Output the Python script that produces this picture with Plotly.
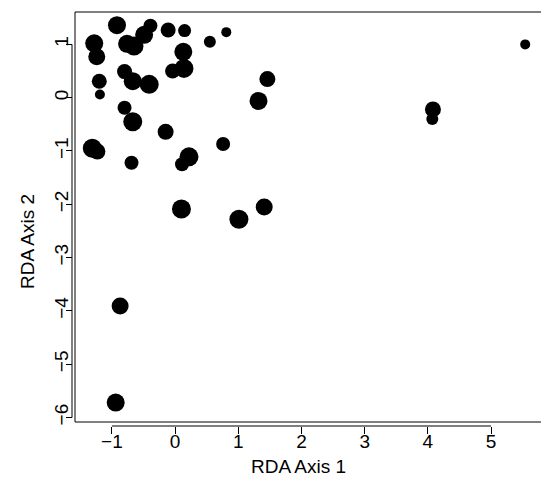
import plotly.graph_objects as go

# RDA site scores
rda1 = [-0.92, -1.28, -1.24, -1.20, -1.19, -0.80, -0.67, -0.41, -0.80, -0.67,
        -0.15, -0.11, 0.15, 0.55, 0.81, 0.13, 0.14, -0.04, 1.46, 1.32,
        -0.76, -0.65, -0.49, -0.39, -1.31, -1.23, -0.69, 0.76, 0.22, 0.11,
        0.10, 1.01, 1.41, 5.54, 4.08, 4.07, -0.87, -0.94]
rda2 = [1.36, 1.02, 0.77, 0.31, 0.06, 0.49, 0.31, 0.25, -0.19, -0.45,
        -0.64, 1.27, 1.26, 1.05, 1.23, 0.86, 0.55, 0.50, 0.35, -0.06,
        1.01, 0.97, 1.18, 1.35, -0.95, -1.01, -1.22, -0.87, -1.11, -1.25,
        -2.09, -2.28, -2.05, 1.00, -0.22, -0.40, -3.91, -5.72]
point_size = [18, 18, 17, 15, 10, 15, 18, 19, 14, 19,
              16, 15, 13, 12, 10, 18, 19, 15, 16, 18,
              18, 19, 18, 14, 19, 16, 14, 14, 19, 14,
              19, 19, 17, 10, 16, 12, 17, 18]

x_ticks = [-1, 0, 1, 2, 3, 4, 5]
y_ticks = [1, 0, -1, -2, -3, -4, -5, -6]
x_title = "RDA Axis 1"
y_title = "RDA Axis 2"

W, H = 541, 477
axis_left_px = 72      # y-axis line
box_left_px = 75
box_top_px = 12
box_bottom_px = 422
axis_bottom_px = 426   # x-axis line

ml = axis_left_px
mb = H - axis_bottom_px
paper_w = W - ml
paper_h = axis_bottom_px - box_top_px
xdom0 = (box_left_px - axis_left_px) / paper_w
ydom0 = (axis_bottom_px - box_bottom_px) / paper_h

FONT = "Liberation Sans, Arial, sans-serif"
FS = 19

fig = go.Figure()
fig.add_trace(go.Scatter(
    x=rda1, y=rda2, mode="markers",
    marker=dict(color="black", size=point_size, opacity=1, line=dict(width=0)),
    hoverinfo="skip", showlegend=False, cliponaxis=False,
))

fig.update_layout(
    width=W, height=H,
    margin=dict(l=ml, r=0, t=box_top_px, b=mb, autoexpand=False),
    paper_bgcolor="white", plot_bgcolor="white",
    font=dict(family=FONT, size=FS, color="black"),
    xaxis=dict(domain=[xdom0, 1], range=[-1.584, 5.79], anchor="free", position=0,
               tickmode="array", tickvals=x_ticks, ticks="outside", ticklen=7,
               tickwidth=1, tickcolor="black", showgrid=False, zeroline=False,
               showline=False, ticklabelstandoff=-9, tickfont=dict(size=FS, family=FONT)),
    yaxis=dict(domain=[ydom0, 1], range=[-6.085, 1.608], anchor="free", position=0,
               tickmode="array", tickvals=y_ticks, ticks="outside", ticklen=6,
               tickwidth=1, tickcolor="black", showgrid=False, zeroline=False,
               showline=False, tickangle=-90, ticklabelstandoff=-10,
               tickfont=dict(size=FS, family=FONT)),
    shapes=[
        dict(type="rect", xref="paper", yref="paper", x0=xdom0, x1=1.05, y0=ydom0, y1=1,
             line=dict(color="black", width=1)),
        dict(type="line", xref="x", yref="paper", x0=x_ticks[0], x1=x_ticks[-1], y0=0, y1=0,
             line=dict(color="black", width=1)),
        dict(type="line", xref="paper", yref="y", x0=0, x1=0, y0=y_ticks[-1], y1=y_ticks[0],
             line=dict(color="black", width=1)),
    ],
    annotations=[
        dict(text=x_title, xref="paper", yref="paper", x=(298 - ml) / paper_w, y=0,
             yshift=-(466 - axis_bottom_px), showarrow=False, xanchor="center", yanchor="middle",
             font=dict(size=FS, family=FONT)),
        dict(text=y_title, xref="paper", yref="paper", x=0, xshift=-(ml - 27),
             y=(axis_bottom_px - 242) / paper_h, showarrow=False, textangle=-90,
             xanchor="center", yanchor="middle", font=dict(size=FS, family=FONT)),
    ],
)

fig.write_html("out.html", config={"displayModeBar": False},
               post_script="document.body.style.margin='0px';document.body.style.padding='0px';")
